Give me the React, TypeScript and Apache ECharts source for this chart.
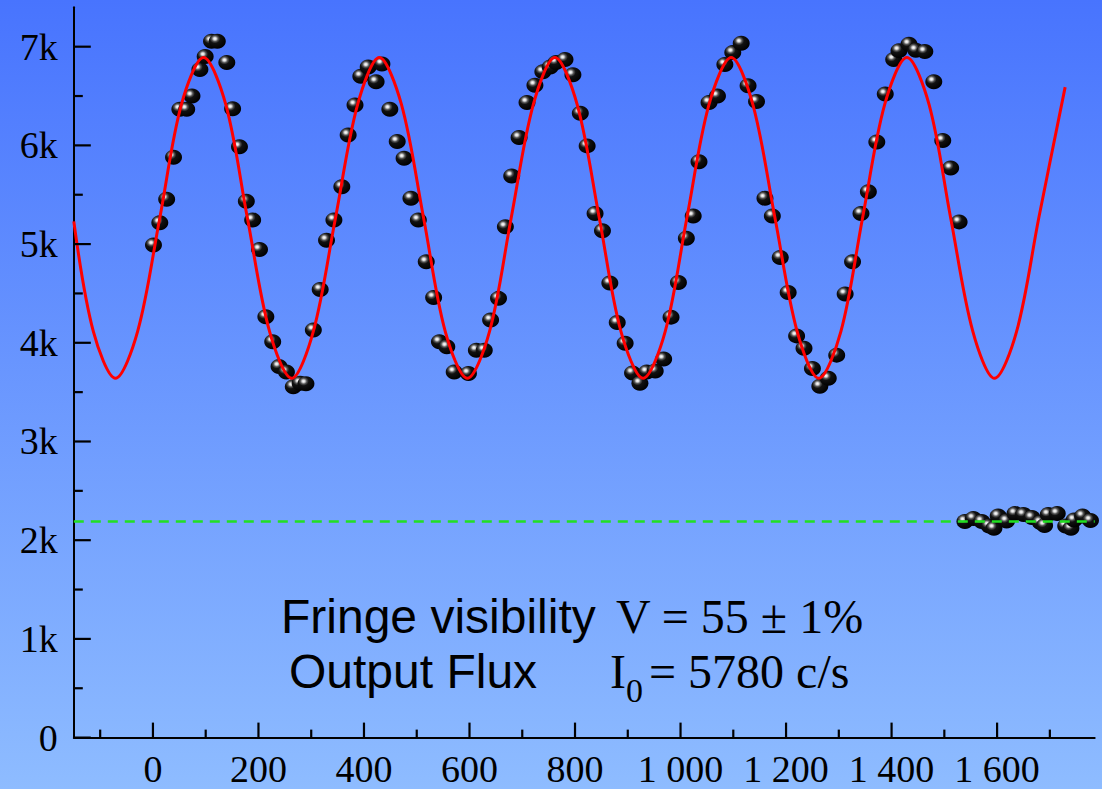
import React, { useEffect, useRef } from "react";
import * as echarts from "echarts";

// ---- data ----
const xMin = -150;
const xMax = 1785;
const yMin = 0;
const yMax = 7400;

const xMajorTicks = [0, 200, 400, 600, 800, 1000, 1200, 1400, 1600];
const xMinorTicks = [-100, 100, 300, 500, 700, 900, 1100, 1300, 1500, 1700];
const yMajorTicks = [0, 1000, 2000, 3000, 4000, 5000, 6000, 7000];
const yMinorTicks = [500, 1500, 2500, 3500, 4500, 5500, 6500];

const fringeX = [
  1, 13, 26, 39, 51, 64, 74, 89, 99, 111, 122, 140, 151, 164, 177, 189, 202, 214, 227, 239,
  253, 266, 279, 290, 304, 317, 329, 343, 358, 370, 383, 394, 408, 423, 434, 449, 463, 476, 489, 503,
  518, 532, 543, 557, 571, 598, 613, 628, 640, 655, 668, 680, 694, 709, 724, 739, 753, 764, 781, 796,
  810, 823, 838, 852, 866, 880, 895, 909, 923, 936, 952, 968, 982, 996, 1011, 1024, 1035, 1054, 1070, 1084,
  1099, 1115, 1128, 1144, 1160, 1174, 1189, 1204, 1220, 1234, 1250, 1264, 1280, 1296, 1312, 1326, 1342, 1356, 1372, 1388,
  1404, 1414, 1433, 1446, 1463, 1480, 1497, 1512, 1528,
];
const fringeY = [
  4990, 5215, 5455, 5880, 6365, 6365, 6500, 6770, 6900, 7055, 7055, 6840, 6370, 5985, 5435, 5245, 4945, 4265, 4010, 3760,
  3705, 3555, 3590, 3585, 4130, 4540, 5040, 5245, 5580, 6105, 6410, 6700, 6795, 6645, 6825, 6365, 6040, 5870, 5465, 5245,
  4820, 4460, 4010, 3960, 3705, 3690, 3925, 3925, 4230, 4450, 5175, 5690, 6080, 6435, 6610, 6745, 6795, 6840, 6870, 6715,
  6325, 5995, 5310, 5135, 4605, 4205, 3995, 3695, 3590, 3705, 3715, 3835, 4260, 4610, 5060, 5285, 5835, 6435, 6500, 6820,
  6940, 7035, 6605, 6445, 5465, 5285, 4865, 4510, 4070, 3945, 3740, 3560, 3640, 3875, 4495, 4820, 5310, 5530, 6035, 6520,
  6870, 6960, 7025, 6965, 6950, 6645, 6050, 5770, 5225,
];

const backgroundX = [1539, 1555, 1571, 1585, 1594, 1602, 1618, 1634, 1650, 1666, 1682, 1690, 1697, 1714, 1730, 1740, 1746, 1762, 1777];
const backgroundY = [2190, 2220, 2190, 2145, 2120, 2245, 2195, 2270, 2260, 2230, 2180, 2150, 2260, 2270, 2145, 2120, 2205, 2245, 2200];

const fitX = [
  -150, -113, -71, -29, 13, 54, 96, 138, 179, 221, 263, 304, 346, 388, 429, 471, 513, 554, 596, 638,
  679, 721, 762, 804, 846, 887, 929, 971, 1012, 1054, 1096, 1137, 1179, 1221, 1262, 1304, 1345, 1387, 1429, 1471,
  1512, 1554, 1595, 1637, 1679, 1729,
];
const fitY = [
  5230, 4115, 3640, 4115, 5265, 6415, 6890, 6415, 5265, 4115, 3640, 4115, 5265, 6415, 6890, 6415, 5265, 4115, 3640, 4115,
  5265, 6415, 6890, 6415, 5265, 4115, 3640, 4115, 5265, 6415, 6890, 6415, 5265, 4115, 3640, 4115, 5265, 6415, 6890, 6415,
  5265, 4115, 3640, 4115, 5265, 6590,
];

const backgroundLevel = 2190;

const visibilityLabel = "Fringe visibility";
const visibilityValue = "V = 55 ± 1%";
const fluxLabel = "Output Flux";
const fluxSymbol = "I";
const fluxSub = "0";
const fluxValue = "= 5780 c/s";

const SERIF = '"Liberation Serif", "Times New Roman", Times, serif';
const SANS = '"Liberation Sans", Arial, Helvetica, sans-serif';

function fmtX(v: number): string {
  if (Math.abs(v) >= 1000) {
    const th = Math.floor(v / 1000);
    const rest = String(Math.abs(v) % 1000).padStart(3, "0");
    return `${th} ${rest}`;
  }
  return String(v);
}
function fmtY(v: number): string {
  return v === 0 ? "0" : `${v / 1000}k`;
}

export default function App() {
  const ref = useRef<HTMLDivElement>(null);
  useEffect(() => {
    if (!ref.current) return;
    const chart = echarts.init(ref.current, null, { renderer: "svg" });
    const sphere = {
      type: "radial",
      x: 0.36,
      y: 0.33,
      r: 0.68,
      colorStops: [
        { offset: 0, color: "#ffffff" },
        { offset: 0.12, color: "#dcdcdc" },
        { offset: 0.28, color: "#555555" },
        { offset: 0.45, color: "#111111" },
        { offset: 1, color: "#000000" },
      ],
    };
    const axisColor = "#000";

    // tick marks drawn through the axes' own coordinate mapping
    const xTickSeries = (values: number[], len: number) => ({
      type: "custom",
      silent: true,
      clip: false,
      z: 5,
      data: values.map((v) => [v, yMin]),
      encode: { x: 0, y: 1 },
      renderItem: (_p: any, api: any) => {
        const pt = api.coord([api.value(0), api.value(1)]);
        return {
          type: "line",
          shape: { x1: pt[0], y1: pt[1], x2: pt[0], y2: pt[1] - len },
          style: { stroke: axisColor, lineWidth: 2.2 },
        };
      },
    });
    const yTickSeries = (values: number[], len: number) => ({
      type: "custom",
      silent: true,
      clip: false,
      z: 5,
      data: values.map((v) => [xMin, v]),
      encode: { x: 0, y: 1 },
      renderItem: (_p: any, api: any) => {
        const pt = api.coord([api.value(0), api.value(1)]);
        return {
          type: "line",
          shape: { x1: pt[0], y1: pt[1], x2: pt[0] + len, y2: pt[1] },
          style: { stroke: axisColor, lineWidth: 2.2 },
        };
      },
    });

    const textEl = (x: number, y: number, text: string, font: string) => ({
      type: "text",
      x,
      y,
      z: 100,
      style: { text, font, fill: "#000", align: "left", verticalAlign: "middle" },
    });
    const option: any = {
      animation: false,
      graphic: [
        {
          type: "rect",
          z: -100,
          silent: true,
          shape: { x: 0, y: 0, width: 1102, height: 789 },
          style: {
            fill: {
              type: "linear",
              x: 0,
              y: 0,
              x2: 0,
              y2: 1,
              colorStops: [
                { offset: 0, color: "#4874fe" },
                { offset: 1, color: "#8ebcff" },
              ],
            },
          },
        },
        textEl(281, 616, visibilityLabel, `48px ${SANS}`),
        textEl(616, 616, visibilityValue, `48px ${SERIF}`),
        textEl(289, 671, fluxLabel, `48px ${SANS}`),
        textEl(610, 671, fluxSymbol, `48px ${SERIF}`),
        textEl(626, 690, fluxSub, `34px ${SERIF}`),
        textEl(649, 671, fluxValue, `48px ${SERIF}`),
      ],
      grid: { left: 73.8, right: 7.3, top: 7.2, bottom: 51.4, outerBoundsMode: "none", containLabel: false },
      xAxis: {
        type: "value",
        position: "bottom",
        min: xMin,
        max: xMax,
        splitLine: { show: false },
        axisLine: { show: true, onZero: false, lineStyle: { color: axisColor, width: 2 } },
        axisTick: { show: false },
        axisLabel: { show: true, customValues: xMajorTicks, formatter: (v: number) => fmtX(v), color: "#000", fontFamily: SERIF, fontSize: 38, margin: 12 },
      },
      yAxis: {
        type: "value",
        position: "left",
        min: yMin,
        max: yMax,
        splitLine: { show: false },
        axisLine: { show: true, onZero: false, lineStyle: { color: axisColor, width: 2 } },
        axisTick: { show: false },
        axisLabel: { show: true, customValues: yMajorTicks, formatter: (v: number) => fmtY(v), color: "#000", fontFamily: SERIF, fontSize: 38, margin: 16 },
      },
      series: [
        {
          type: "scatter",
          name: "fringes",
          data: fringeX.map((x, i) => [x, fringeY[i]]),
          symbol: "circle",
          symbolSize: [17, 15],
          itemStyle: { color: sphere, opacity: 1 },
          z: 2,
        },
        {
          type: "scatter",
          name: "background",
          data: backgroundX.map((x, i) => [x, backgroundY[i]]),
          symbol: "circle",
          symbolSize: [17, 15],
          itemStyle: { color: sphere, opacity: 1 },
          z: 2,
        },
        {
          type: "line",
          name: "fit",
          data: fitX.map((x, i) => [x, fitY[i]]),
          smooth: 0.33,
          showSymbol: false,
          symbol: "none",
          lineStyle: { color: "#ff0000", width: 3 },
          z: 3,
        },
        {
          type: "line",
          name: "level",
          data: [
            [xMin, backgroundLevel],
            [xMax, backgroundLevel],
          ],
          showSymbol: false,
          symbol: "none",
          lineStyle: { color: "#22e022", width: 2.5, type: [10, 7] },
          z: 4,
        },
        xTickSeries(xMajorTicks, 15),
        xTickSeries(xMinorTicks, 8),
        yTickSeries(yMajorTicks, 17),
        yTickSeries(yMinorTicks, 9),
      ],
    };
    chart.setOption(option);
    return () => chart.dispose();
  }, []);
  return <div ref={ref} style={{ position: "absolute", left: 0, top: 0, width: 1102, height: 789 }} />;
}
